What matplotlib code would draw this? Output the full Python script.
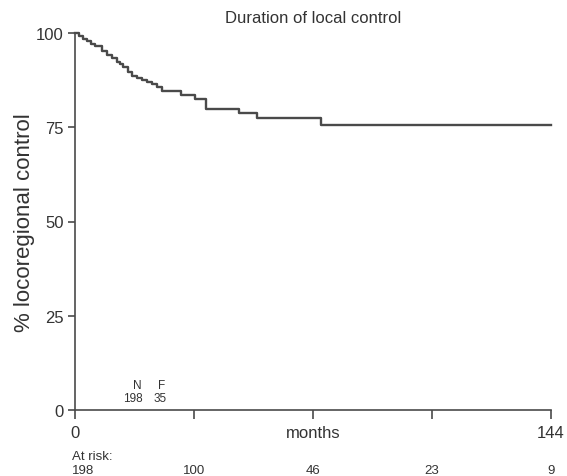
import matplotlib.pyplot as plt

plt.rcParams['font.family'] = ['Liberation Sans', 'DejaVu Sans']

# Kaplan-Meier style step curve: event times (months) and survival (%)
months = [0, 1.2, 2.5, 3.5, 4.9, 6.0, 8.1, 9.6, 11.1, 12.6, 13.6, 14.4, 16.1,
          17.1, 18.7, 20.2, 21.7, 23.2, 24.9, 26.2, 32.2, 36.2, 39.5, 49.5,
          55.1, 74.4, 144]
control = [100, 99.3, 98.4, 97.8, 97.1, 96.5, 95.3, 94.2, 93.5, 92.4, 91.8,
           91.1, 89.6, 88.5, 88.1, 87.5, 86.9, 86.5, 85.6, 84.7, 83.5, 82.5,
           79.8, 78.8, 77.4, 75.6, 75.6]

x_ticks = [0, 36, 72, 108, 144]
x_ticklabels = ['0', '', 'months', '', '144']
y_ticks = [0, 25, 50, 75, 100]
at_risk = ['198', '100', '46', '23', '9']

grey = '#4a4a4a'
text_grey = '#333333'

fig = plt.figure(figsize=(5.67, 4.77), dpi=100)
ax = fig.add_axes([75 / 567, 66 / 477, 476 / 567, 377 / 477])

ax.step(months, control, where='post', color=grey, lw=1.7, clip_on=False)

ax.set_xlim(0, 144)
ax.set_ylim(0, 100)
ax.set_xticks(x_ticks)
ax.set_xticklabels(x_ticklabels)
ax.set_yticks(y_ticks)
ax.tick_params(direction='out', width=1.2, colors=grey,
               labelsize=12, labelcolor=text_grey)
ax.tick_params(axis='y', length=5, pad=3)
ax.tick_params(axis='x', length=6.5, pad=4)
for side in ['top', 'right']:
    ax.spines[side].set_visible(False)
for side in ['left', 'bottom']:
    ax.spines[side].set_color(grey)
    ax.spines[side].set_linewidth(1.2)

ax.set_title('Duration of local control', fontsize=12, color=text_grey, pad=8)
ax.set_ylabel('% locoregional control', fontsize=16, color=text_grey, labelpad=1)

# N / F box inside plot
ax.text(18.8, 6.6, 'N', fontsize=8.5, color=text_grey, ha='center', va='center')
ax.text(17.4, 3.2, '198', fontsize=8.5, color=text_grey, ha='center', va='center')
ax.text(26.2, 6.6, 'F', fontsize=8.5, color=text_grey, ha='center', va='center')
ax.text(25.8, 3.2, '35', fontsize=8.5, color=text_grey, ha='center', va='center')

# numbers at risk
ax.text(-1, -12.2, 'At risk:', fontsize=9.5, color=text_grey, ha='left', va='center',
        clip_on=False)
for xt, n in zip(x_ticks, at_risk):
    ha = 'left' if xt == 0 else 'center'
    ax.text(xt - (1 if xt == 0 else 0), -15.9, n, fontsize=9.5, color=text_grey,
            ha=ha, va='center', clip_on=False)

fig.savefig('out.png', dpi=100)
